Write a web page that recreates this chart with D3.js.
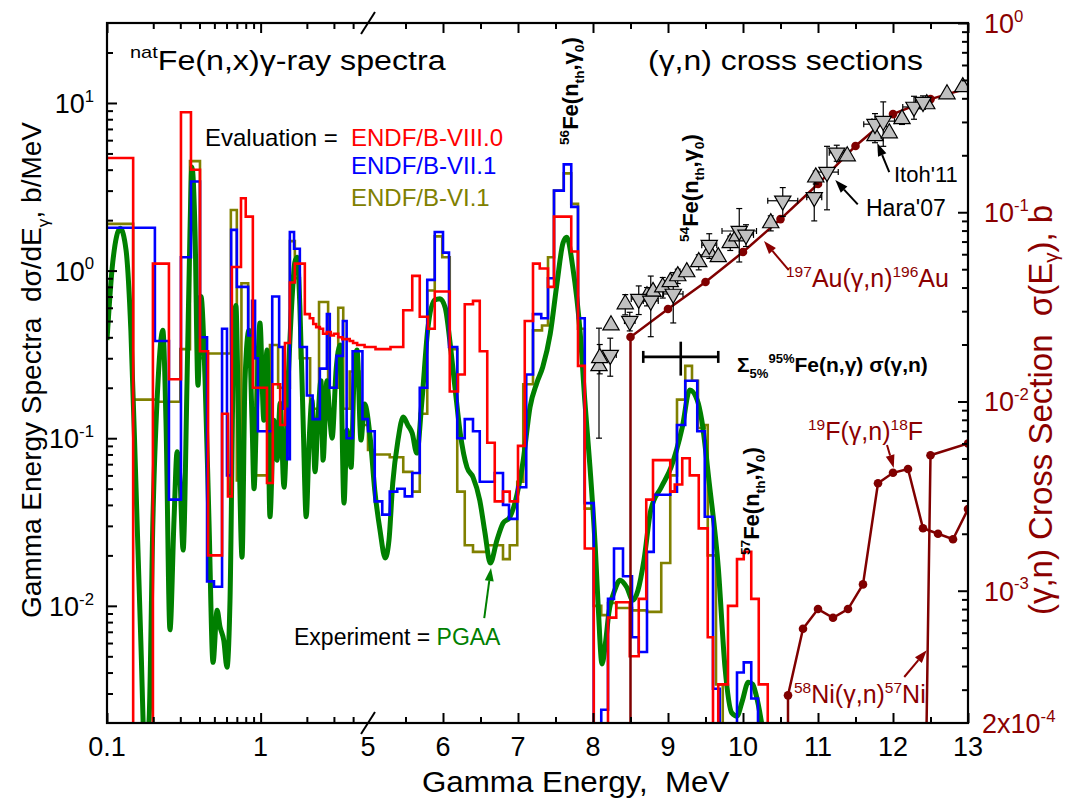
<!DOCTYPE html>
<html>
<head>
<meta charset="utf-8">
<title>natFe(n,x) gamma-ray spectra</title>
<script src="https://cdnjs.cloudflare.com/ajax/libs/d3/7.8.5/d3.min.js"></script>
<style>
  body { margin: 0; background: #fff; }
  svg text { font-family: "Liberation Sans", Arial, Helvetica, sans-serif; white-space: pre; }
</style>
</head>
<body>
<div id="chart"></div>
<script>
// Histograms: [bin start (MeV), b/MeV]; last entry closes the last bin
const endf80 = [[0.1,4.7],[0.148,1e-4],[0.199,1.1],[0.253,0.225],[0.303,8.8],[0.352,4.0],[0.403,0.33],[0.455,0.02],
  [0.561,0.14],[0.613,0.045],[0.65,1.05],[0.745,2.7],[0.80,2.1],[0.89,0.2],[1.10,0.054],[1.20,0.21],[1.34,0.12],
  [1.44,0.37],[1.55,0.85],[1.67,1.1],[1.94,0.55],[2.09,0.52],[2.2,0.48],[2.3,0.46],[2.43,0.45],[2.55,0.42],[2.7,0.43],
  [2.86,0.41],[3.0,0.42],[3.2,0.40],[3.4,0.39],[3.6,0.39],[3.8,0.38],[4.0,0.37],[4.25,0.36],[4.5,0.36],[4.75,0.35],
  [5.0,0.35],[5.1,0.34],[5.2,0.34],[5.3,0.35],[5.47,0.58],[5.59,0.93],[5.69,0.53],[5.8,0.45],[5.89,0.75],[6.09,0.19],
  [6.2,0.24],[6.29,0.63],[6.4,0.66],[6.49,0.33],[6.59,0.094],[6.69,0.042],[6.8,0.048],[6.89,0.042],[7.0,0.09],
  [7.09,0.50],[7.2,1.1],[7.29,1.03],[7.4,0.8],[7.48,2.1],[7.71,1.3],[7.8,0.27],[7.89,0.022],[8.01,1e-4],[8.2,0.0085],
  [8.31,0.0105],[8.49,0.005],[8.61,0.011],[8.71,0.043],[8.8,0.074],[9.03,0.048],[9.09,0.053],[9.19,0.076],[9.29,0.06],
  [9.41,0.029],[9.53,0.0065],[9.6,1e-4],[9.67,0.0034],[9.8,0.01],[9.92,0.019],[10.01,0.021],[10.11,0.011],
  [10.21,0.0034],[10.33,0]];

const endf71 = [[0.1,1.8],[0.205,0.38],[0.253,0.043],[0.303,1.2],[0.352,3.4],[0.403,0.4],[0.448,0.014],[0.497,0.013],
  [0.561,0.45],[0.604,0.06],[0.643,1.75],[0.70,0.8],[0.83,0.41],[0.88,0.66],[0.92,0.3],[0.96,0.11],[1.19,0.70],
  [1.32,0.35],[1.40,0.15],[1.49,0.075],[1.55,1.7],[1.65,1.35],[1.80,0.35],[2.0,0.18],[2.18,0.13],[2.43,0.26],
  [2.70,0.55],[2.82,0.2],[3.12,0.31],[3.43,0.5],[3.63,0.1],[3.97,0.33],[4.6,0.13],[5.0,0.11],[5.09,0.042],[5.19,0.035],
  [5.29,0.048],[5.39,0.05],[5.49,0.045],[5.59,0.062],[5.69,0.2],[5.79,0.88],[5.89,1.7],[6.0,1.28],[6.08,0.35],
  [6.19,0.1],[6.29,0.13],[6.4,0.11],[6.49,0.055],[6.69,0.062],[6.8,0.04],[6.88,0.033],[6.99,0.051],[7.11,0.24],
  [7.2,0.55],[7.31,0.52],[7.4,0.9],[7.48,3.0],[7.61,4.3],[7.71,2.4],[7.8,0.52],[7.89,0.041],[8.01,1e-4],[8.11,0.0024],
  [8.2,0.011],[8.28,0.022],[8.4,0.015],[8.52,0.0065],[8.61,0.0053],[8.72,0.021],[8.81,0.046],[9.03,0.048],[9.12,0.12],
  [9.23,0.22],[9.39,0.11],[9.49,0.034],[9.6,0.0032],[9.69,1e-4],[9.92,0.004],[10.01,0.0046],[10.11,0.0028],[10.2,0]];

const endf61 = [[0.1,1.9],[0.148,0.17],[0.21,0.165],[0.30,0.34],[0.347,4.5],[0.403,0.3],[0.448,0.32],[0.64,2.3],
  [0.70,0.056],[0.75,0.84],[0.83,0.35],[0.93,0.06],[1.15,0.36],[1.3,0.2],[1.55,1.5],[1.67,0.9],[1.80,0.3],[2.1,0.15],
  [2.4,0.65],[2.75,0.2],[3.2,0.6],[3.45,0.15],[3.8,0.25],[4.4,0.12],[5.0,0.085],[5.09,0.08],[5.29,0.077],[5.47,0.063],
  [5.59,0.048],[5.69,0.14],[5.79,0.76],[5.89,1.6],[5.99,1.2],[6.09,0.34],[6.19,0.048],[6.29,0.023],[6.4,0.021],
  [6.59,0.023],[6.8,0.019],[6.89,0.023],[6.99,0.055],[7.07,0.21],[7.2,0.44],[7.32,0.47],[7.4,1.2],[7.48,3.0],
  [7.61,3.8],[7.71,2.5],[7.8,0.45],[7.89,0.038],[8.01,0.01],[8.11,0.0088],[8.2,0.0104],[8.31,0.0097],[8.52,0.0094],
  [8.72,0.0092],[8.91,0.018],[9.03,0.06],[9.12,0.17],[9.23,0.27],[9.32,0.22],[9.4,0.115],[9.49,0.12],[9.53,0.02],
  [9.64,0.0034],[9.73,0]];

// PGAA measurement [MeV, b/MeV]
const pgaa = [[0.100,0.385],[0.109,1.12],[0.122,1.79],[0.133,1.33],[0.143,0.44],[0.154,0.056],[0.166,0.0062],
  [0.177,0.0012],[0.188,0.0021],[0.199,0.0325],[0.215,0.22],[0.231,0.44],[0.242,0.128],[0.257,0.0072],[0.273,0.0325],
  [0.286,0.083],[0.299,0.056],[0.313,0.0215],[0.332,0.22],[0.347,1.74],[0.357,4.15],[0.374,1.74],[0.391,0.207],
  [0.409,0.70],[0.435,0.22],[0.461,0.0325],[0.490,0.0046],[0.521,0.0094],[0.544,0.0075],[0.576,0.0062],[0.604,0.0043],
  [0.632,0.0108],[0.672,0.507],[0.690,0.62],[0.720,0.112],[0.757,0.0195],[0.791,0.22],[0.839,0.44],[0.879,0.128],
  [0.906,0.05],[0.945,0.169],[0.99,0.486],[1.05,0.128],[1.10,0.336],[1.15,0.034],[1.22,0.128],[1.28,0.074],
  [1.34,0.162],[1.42,0.051],[1.51,0.22],[1.60,0.667],[1.67,1.12],[1.73,1.2],[1.80,0.62],[1.89,0.128],[1.98,0.034],
  [2.07,0.0975],[2.16,0.169],[2.26,0.063],[2.36,0.128],[2.47,0.22],[2.55,0.074],[2.70,0.22],[2.83,0.128],[2.92,0.1],
  [3.10,0.255],[3.29,0.36],[3.49,0.041],[3.65,0.112],[3.88,0.067],[4.05,0.22],[4.24,0.336],[4.5,0.0975],[4.75,0.16],
  [5.03,0.1],[5.09,0.049],[5.16,0.0283],[5.23,0.0193],[5.28,0.0247],[5.33,0.054],[5.4,0.0975],[5.47,0.134],
  [5.53,0.12],[5.59,0.107],[5.65,0.0815],[5.72,0.169],[5.8,0.46],[5.89,0.667],[5.96,0.68],[6.03,0.6],[6.09,0.385],
  [6.16,0.2],[6.23,0.107],[6.32,0.067],[6.4,0.0586],[6.49,0.0427],[6.56,0.0272],[6.63,0.018],[6.72,0.0247],
  [6.8,0.0311],[6.89,0.0338],[6.99,0.047],[7.07,0.074],[7.16,0.153],[7.25,0.213],[7.33,0.266],[7.43,0.42],[7.52,0.84],
  [7.6,1.46],[7.65,1.58],[7.73,1.05],[7.83,0.42],[7.89,0.169],[7.96,0.067],[8.03,0.0224],[8.07,0.0098],[8.12,0.0045],
  [8.17,0.0062],[8.21,0.009],[8.29,0.0124],[8.36,0.0142],[8.45,0.0129],[8.53,0.0108],[8.6,0.0124],[8.68,0.0188],
  [8.77,0.0372],[8.91,0.051],[9.04,0.067],[9.19,0.116],[9.29,0.194],[9.39,0.169],[9.45,0.128],[9.55,0.054],
  [9.67,0.017],[9.76,0.0043],[9.85,0.0023],[9.92,0.0022],[9.99,0.0027],[10.07,0.0035],[10.13,0.0034],[10.17,0.003],
  [10.24,0.0021],[10.28,0.0016]];

// (gamma,n) cross sections, right axis [MeV, b]
const auE = [8.5, 8.5, 9.0, 9.5, 10.0, 10.5, 11.0, 11.5, 12.0, 12.5, 13.0];
const auXs = [1e-5, 0.0219, 0.0308, 0.0428, 0.0616, 0.092, 0.141, 0.224, 0.33, 0.396, 0.453];
const fE = [10.6, 10.6, 10.8, 11.0, 11.2, 11.4, 11.6, 11.8, 12.0, 12.2, 12.4, 12.6, 12.8, 13.0];
const fXs = [1e-5, 0.00028, 0.00063, 0.0008, 0.00072, 0.0008, 0.00108, 0.0037, 0.0042, 0.0044, 0.00214, 0.002, 0.00187, 0.0027];
const niE = [12.4, 12.5, 13.0];
const niXs = [1e-5, 0.0052, 0.006];

// Itoh'11 [MeV, b, dσ]
const itoh = [[8.08,0.0154,0.009],[8.09,0.0170,0.003],[8.24,0.0253,0],[8.43,0.0327,0.004],[8.72,0.036,0.004],
  [8.8,0.038,0],[8.93,0.0402,0.005],[9.03,0.0428,0],[9.13,0.046,0.004],[9.25,0.0483,0],[9.41,0.0546,0.005],
  [9.55,0.0616,0],[9.67,0.058,0],[9.83,0.0688,0.006],[9.92,0.0748,0],[10.37,0.0877,0.008],[10.97,0.153,0.012],
  [11.39,0.198,0],[11.76,0.253,0.02],[11.95,0.262,0],[12.12,0.311,0.02],[12.45,0.373,0],[12.72,0.421,0],[12.93,0.459,0]];
// Hara'07 [MeV, b, dE, dσ]
const hara = [[8.23,0.0176,0.08,0.004],[8.49,0.0266,0.07,0.003],[8.61,0.0348,0.1,0.006],[8.77,0.034,0.1,0.012],
  [9.07,0.037,0.13,0.011],[9.55,0.067,0.1,0.01],[9.95,0.0796,0.23,0.025],[10.04,0.0759,0.1,0.01],
  [10.53,0.115,0.2,0.02],[10.95,0.12,0.1,0.03],[11.12,0.163,0.15,0.06],[11.25,0.206,0.1,0.02],
  [11.76,0.292,0.15,0.04],[11.87,0.303,0.15,0.08],[12.28,0.36,0.15,0.05],[12.4,0.382,0.1,0.03]];
// spectrum-averaged point [MeV, b, dE, dσ]
const sigmaAvg = [9.17, 0.0172, 0.5, 0.0035];

const xMajor = [0.1, 1, 5, 6, 7, 8, 9, 10, 11, 12, 13];
const xMinorLog = [0.2, 0.3, 0.4, 0.5, 0.6, 0.7, 0.8, 0.9, 2, 3, 4];
const xMinorLin = [5.5, 6.5, 7.5, 8.5, 9.5, 10.5, 11.5, 12.5];
const yLeftMajor = [0.01, 0.1, 1, 10];
const yRightMajor = [0.001, 0.01, 0.1, 1];

// ---- layout ----
const width = 1070, height = 808;
const box = { left: 107, right: 968, top: 23, bottom: 723 };
const xBreak = 368;
const darkRed = "#8b0000";

const xLog = d3.scaleLog().domain([0.1, 5]).range([box.left, xBreak]);
const xLin = d3.scaleLinear().domain([5, 13]).range([xBreak, box.right]);
const xScale = (e) => (e <= 5 ? xLog(e) : xLin(e));
const yLeft = d3.scaleLog().domain([2e-3, 30]).range([box.bottom, box.top]);
const yRight = d3.scaleLog().domain([2e-4, 1]).range([box.bottom, box.top]);

const svg = d3.select("#chart").append("svg").attr("width", width).attr("height", height);

svg.append("defs").append("clipPath").attr("id", "plot")
  .append("rect")
  .attr("x", box.left).attr("y", box.top)
  .attr("width", box.right - box.left).attr("height", box.bottom - box.top);

const plot = svg.append("g").attr("clip-path", "url(#plot)");

const floorV = 1e-5;
const stepLine = d3.line()
  .x((d) => xScale(d[0]))
  .y((d) => yLeft(Math.max(d[1], floorV)))
  .curve(d3.curveStepAfter);

const smoothLine = d3.line()
  .x((d) => xScale(d[0]))
  .y((d) => yLeft(Math.max(d[1], floorV)))
  .curve(d3.curveMonotoneX);

const rightLine = d3.line()
  .x((d) => xScale(d[0]))
  .y((d) => yRight(Math.max(d[1], floorV)));

// spectra
plot.append("path").datum(endf61).attr("d", stepLine)
  .attr("fill", "none").attr("stroke", "#808000").attr("stroke-width", 2.6);
plot.append("path").datum(pgaa).attr("d", smoothLine)
  .attr("fill", "none").attr("stroke", "#008000").attr("stroke-width", 5).attr("stroke-linejoin", "round");
plot.append("path").datum(endf71).attr("d", stepLine)
  .attr("fill", "none").attr("stroke", "#0000ff").attr("stroke-width", 2.6);
plot.append("path").datum(endf80).attr("d", stepLine)
  .attr("fill", "none").attr("stroke", "#ff0000").attr("stroke-width", 2.6);

// (gamma,n) lines with markers
[[auE, auXs], [fE, fXs], [niE, niXs]].forEach(([es, xs]) => {
  const pts = es.map((e, i) => [e, xs[i]]);
  plot.append("path").datum(pts).attr("d", rightLine)
    .attr("fill", "none").attr("stroke", "#800000").attr("stroke-width", 2.5);
  plot.selectAll(null).data(pts.filter((d) => d[1] >= 2e-4)).enter()
    .append("circle")
    .attr("cx", (d) => xScale(d[0]))
    .attr("cy", (d) => yRight(d[1]))
    .attr("r", 4.3)
    .attr("fill", "#800000");
});

// error bars
const errG = plot.append("g").attr("stroke", "#000").attr("stroke-width", 1.2);
function vErr(e, s, ds, cap) {
  if (!ds) return;
  const cx = xScale(e);
  const y1 = yRight(Math.max(s - ds, 1e-5)), y2 = yRight(s + ds);
  errG.append("line").attr("x1", cx).attr("x2", cx).attr("y1", y1).attr("y2", y2);
  errG.append("line").attr("x1", cx - cap).attr("x2", cx + cap).attr("y1", y1).attr("y2", y1);
  errG.append("line").attr("x1", cx - cap).attr("x2", cx + cap).attr("y1", y2).attr("y2", y2);
}
function hErr(e, s, de, cap) {
  if (!de) return;
  const cy = yRight(s);
  const x1 = xScale(e - de), x2 = xScale(e + de);
  errG.append("line").attr("x1", x1).attr("x2", x2).attr("y1", cy).attr("y2", cy);
  errG.append("line").attr("x1", x1).attr("x2", x1).attr("y1", cy - cap).attr("y2", cy + cap);
  errG.append("line").attr("x1", x2).attr("x2", x2).attr("y1", cy - cap).attr("y2", cy + cap);
}
itoh.forEach((d) => vErr(d[0], d[1], d[2], 3));
hara.forEach((d) => { vErr(d[0], d[1], d[3], 3); hErr(d[0], d[1], d[2], 3); });

const tri = d3.symbol().type(d3.symbolTriangle).size(115);
plot.selectAll(".itoh").data(itoh).enter().append("path")
  .attr("class", "itoh")
  .attr("d", tri)
  .attr("transform", (d) => `translate(${xScale(d[0])},${yRight(d[1])})`)
  .attr("fill", "#c0c0c0").attr("stroke", "#000").attr("stroke-width", 1.2);
plot.selectAll(".hara").data(hara).enter().append("path")
  .attr("class", "hara")
  .attr("d", tri)
  .attr("transform", (d) => `translate(${xScale(d[0])},${yRight(d[1])}) rotate(180)`)
  .attr("fill", "#c0c0c0").attr("stroke", "#000").attr("stroke-width", 1.2);

// averaged point (cross)
{
  const [e, s, de, ds] = sigmaAvg;
  const g = plot.append("g").attr("stroke", "#000").attr("stroke-width", 2.6);
  const cx = xScale(e), cy = yRight(s);
  const x1 = xScale(e - de), x2 = xScale(e + de);
  const y1 = yRight(s - ds), y2 = yRight(s + ds);
  g.append("line").attr("x1", x1).attr("x2", x2).attr("y1", cy).attr("y2", cy);
  g.append("line").attr("x1", x1).attr("x2", x1).attr("y1", cy - 6).attr("y2", cy + 6);
  g.append("line").attr("x1", x2).attr("x2", x2).attr("y1", cy - 6).attr("y2", cy + 6);
  g.append("line").attr("x1", cx).attr("x2", cx).attr("y1", y1).attr("y2", y2);
}

// ---- axes ----
const axG = svg.append("g");
function styleAxis(g) {
  g.select(".domain").remove();
  g.selectAll(".tick line").attr("stroke", "#000").attr("stroke-width", 2);
  g.selectAll(".tick text").remove();
}
// bottom and top
[[d3.axisBottom, box.bottom], [d3.axisTop, box.top]].forEach(([axisFn, yPos]) => {
  axG.append("g").attr("transform", `translate(0,${yPos})`)
    .call(axisFn(xLog).tickValues([0.1, 1]).tickSize(-10)).call(styleAxis);
  axG.append("g").attr("transform", `translate(0,${yPos})`)
    .call(axisFn(xLog).tickValues(xMinorLog).tickSize(-6)).call(styleAxis);
  axG.append("g").attr("transform", `translate(0,${yPos})`)
    .call(axisFn(xLin).tickValues(xMajor.filter((v) => v > 5)).tickSize(-10)).call(styleAxis);
  axG.append("g").attr("transform", `translate(0,${yPos})`)
    .call(axisFn(xLin).tickValues(xMinorLin).tickSize(-6)).call(styleAxis);
});

const yLeftMinor = [];
[0.001, 0.01, 0.1, 1, 10].forEach((dec) => d3.range(2, 10).forEach((k) => {
  const v = dec * k;
  if (v > 2e-3 && v < 30 && !yLeftMajor.includes(v)) yLeftMinor.push(v);
}));
const yRightMinor = [];
[0.0001, 0.001, 0.01, 0.1].forEach((dec) => d3.range(2, 10).forEach((k) => {
  const v = dec * k;
  if (v > 2e-4 && v < 1) yRightMinor.push(v);
}));

axG.append("g").attr("transform", `translate(${box.left},0)`)
  .call(d3.axisLeft(yLeft).tickValues(yLeftMajor).tickSize(-10)).call(styleAxis);
axG.append("g").attr("transform", `translate(${box.left},0)`)
  .call(d3.axisLeft(yLeft).tickValues(yLeftMinor).tickSize(-6)).call(styleAxis);
axG.append("g").attr("transform", `translate(${box.right},0)`)
  .call(d3.axisRight(yRight).tickValues(yRightMajor).tickSize(-10)).call(styleAxis);
axG.append("g").attr("transform", `translate(${box.right},0)`)
  .call(d3.axisRight(yRight).tickValues(yRightMinor).tickSize(-6)).call(styleAxis);

// frame
svg.append("rect")
  .attr("x", box.left).attr("y", box.top)
  .attr("width", box.right - box.left).attr("height", box.bottom - box.top)
  .attr("fill", "none").attr("stroke", "#000").attr("stroke-width", 2.2);

// axis break marks
[box.top, box.bottom].forEach((yPos) => {
  svg.append("line")
    .attr("x1", xBreak - 7).attr("y1", yPos + 11)
    .attr("x2", xBreak + 7).attr("y2", yPos - 11)
    .attr("stroke", "#000").attr("stroke-width", 2);
});

// ---- text helpers ----
function rich(textSel, parts, fs, subShift = 0.28) {
  let cur = 0;
  parts.forEach((p) => {
    const [t, kind] = Array.isArray(p) ? p : [p, ""];
    const shift = kind === "sup" ? -0.42 * fs : kind === "sub" ? subShift * fs : 0;
    const ts = textSel.append("tspan").attr("dy", shift - cur).text(t);
    if (kind) ts.attr("font-size", fs * 0.62);
    cur = shift;
  });
  return textSel;
}
function label(x, y, parts, opts = {}) {
  const fs = opts.size || 24;
  const g = svg.append("g")
    .attr("transform", `translate(${x},${y})` + (opts.rotate ? ` rotate(${opts.rotate})` : "") +
      (opts.sx ? ` scale(${opts.sx},1)` : ""));
  const t = g.append("text")
    .attr("font-size", fs)
    .attr("fill", opts.color || "#000")
    .attr("font-weight", opts.bold ? "bold" : "normal")
    .attr("text-anchor", opts.anchor || "start");
  rich(t, parts, fs, opts.subShift);
  return t;
}
function arrow(x1, y1, x2, y2, color) {
  const ang = Math.atan2(y2 - y1, x2 - x1);
  const len = 13, half = 4.5;
  const bx = x2 - len * Math.cos(ang), by = y2 - len * Math.sin(ang);
  svg.append("line").attr("x1", x1).attr("y1", y1).attr("x2", bx).attr("y2", by)
    .attr("stroke", color).attr("stroke-width", 2);
  svg.append("path")
    .attr("d", `M${x2},${y2}L${bx + half * Math.sin(ang)},${by - half * Math.cos(ang)}` +
      `L${bx - half * Math.sin(ang)},${by + half * Math.cos(ang)}Z`)
    .attr("fill", color);
}

// tick labels
const tickFs = 27;
const tickBase = 756;
[[0.1, "0.1"], [1, "1"]].forEach(([v, s]) => label(xLog(v), tickBase, [s], { size: tickFs, anchor: "middle" }));
xMajor.filter((v) => v >= 5).forEach((v) => label(xLin(v), tickBase, [String(v)], { size: tickFs, anchor: "middle" }));
yLeftMajor.forEach((v) => {
  const p = Math.round(Math.log10(v));
  label(box.left - 13, yLeft(v) + 10, ["10", [String(p), "sup"]], { size: tickFs, anchor: "end" });
});
yRightMajor.forEach((v) => {
  const p = Math.round(Math.log10(v));
  label(box.right + 16, yRight(v) + 10, ["10", [String(p), "sup"]], { size: tickFs, color: darkRed });
});
label(box.right + 14, yRight(2e-4) + 10, ["2x10", ["-4", "sup"]], { size: tickFs, color: darkRed });

// axis titles
label(422, 792, ["Gamma Energy,  MeV"], { size: 29, sx: 1.08 });
label(41, 370, ["Gamma Energy Spectra  d\u03c3/dE", ["\u03b3", "sub"], ", b/MeV"], { size: 28, rotate: -90, anchor: "middle" });
label(1052, 410, ["(\u03b3,n) Cross Section  \u03c3(E", ["\u03b3", "sub"], "), b"],
  { size: 33, rotate: -90, anchor: "middle", color: darkRed, subShift: 0.18 });

// titles and legend
label(130, 70, [["nat", "sup"], "Fe(n,x)\u03b3-ray spectra"], { size: 28, sx: 1.15 });
label(648, 70, ["(\u03b3,n) cross sections"], { size: 28, sx: 1.14 });
label(205, 146, ["Evaluation = "], { size: 24 });
label(351, 146, ["ENDF/B-VIII.0"], { size: 24, color: "#ff0000" });
label(351, 174, ["ENDF/B-VII.1"], { size: 24, color: "#0000ff" });
label(351, 206, ["ENDF/B-VI.1"], { size: 24, color: "#808000" });
const exp = label(294, 645, ["Experiment = "], { size: 23 });
exp.append("tspan").attr("fill", "#008000").text("PGAA");

// reaction labels
const feParts = (a) => [[a, "sup"], "Fe(n", ["th", "sub"], ",\u03b3", ["0", "sub"], ")"];
label(578, 145, feParts("56"), { size: 22, bold: true, rotate: -90 });
label(698, 242, feParts("54"), { size: 22, bold: true, rotate: -90 });
label(759, 555, feParts("57"), { size: 22, bold: true, rotate: -90 });
label(737, 372, ["\u03a3", ["5%", "sub"], ["95%", "sup"], "Fe(n,\u03b3) \u03c3(\u03b3,n)"], { size: 21, bold: true });

label(894, 182, ["Itoh'11"], { size: 22 });
label(866, 216, ["Hara'07"], { size: 23 });
label(786, 287, [["197", "sup"], "Au(\u03b3,n)", ["196", "sup"], "Au"], { size: 25, color: darkRed });
label(808, 440, [["19", "sup"], "F(\u03b3,n)", ["18", "sup"], "F"], { size: 25, color: darkRed });
label(794, 703, [["58", "sup"], "Ni(\u03b3,n)", ["57", "sup"], "Ni"], { size: 25, color: darkRed });

// annotation arrows (anchored in data units)
arrow(xScale(11.95), yRight(0.163), xScale(11.79), yRight(0.232), "#000");
arrow(xScale(11.53), yRight(0.11), xScale(11.23), yRight(0.148), "#000");
arrow(xScale(10.61), yRight(0.0495), xScale(10.28), yRight(0.0704), darkRed);
arrow(xScale(11.92), yRight(0.00589), xScale(12.01), yRight(0.00445), darkRed);
arrow(xScale(12.15), yRight(0.00035), xScale(12.45), yRight(0.000485), darkRed);
arrow(xScale(6.55), yLeft(0.00845), xScale(6.64), yLeft(0.0168), "#008000");
</script>
</body>
</html>
